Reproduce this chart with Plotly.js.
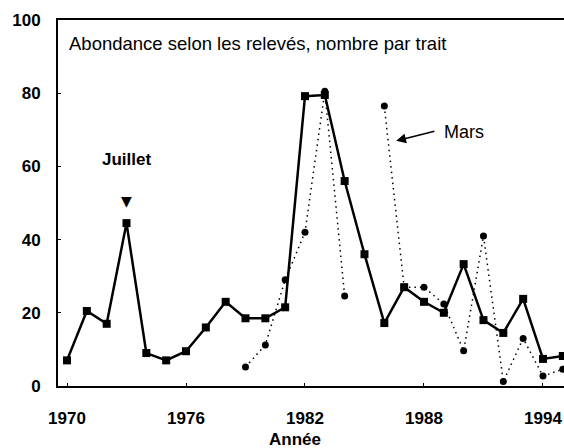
<!DOCTYPE html>
<html><head><meta charset="utf-8">
<script src="https://cdn.plot.ly/plotly-3.0.1.min.js"></script>
<style>html,body{margin:0;padding:0;background:#fff}#c{width:564px;height:448px}</style>
</head><body><div id="c"></div>
<script>
const years = [1970,1971,1972,1973,1974,1975,1976,1977,1978,1979,1980,1981,1982,1983,1984,1985,1986,1987,1988,1989,1990,1991,1992,1993,1994,1995];
const juillet = [7,20.5,17,44.5,9,7,9.5,16,23,18.5,18.5,21.5,79.2,79.5,56,36,17.2,27,23,20,33.3,18,14.5,23.8,7.4,8.2];
const mars = [null,null,null,null,null,null,null,null,null,5.2,11.2,29,42,80.5,24.6,null,76.5,27,27,22.4,9.6,41,1.2,13,2.7,4.6];
const xTicks = [1970,1976,1982,1988,1994];
const yTicks = [0,20,40,60,80,100];

const F = "Liberation Sans, Arial, Helvetica, sans-serif";
const traces = [
  {x: years, y: mars, type:'scatter', mode:'lines+markers', connectgaps:false,
   line:{color:'#000', width:1.5, dash:'1.5px,4px'}, marker:{symbol:'circle', size:7, color:'#000'}},
  {x: years, y: juillet, type:'scatter', mode:'lines+markers',
   line:{color:'#000', width:2.5}, marker:{symbol:'square', size:8, color:'#000'}}
];
const layout = {
  width:564, height:448, showlegend:false,
  paper_bgcolor:'#fff', plot_bgcolor:'#fff',
  margin:{l:58, r:0, t:20, b:62},
  font:{family:F, color:'#000', size:18},
  xaxis:{range:[1969.546,1995.06], tickvals:xTicks, ticktext:xTicks.map(String),
    showgrid:false, zeroline:false, showline:true, linecolor:'#000', linewidth:2, mirror:true,
    ticks:'inside', ticklen:3, tickcolor:'#000', ticklabelstandoff:16,
    tickfont:{family:F, size:17, weight:'bold', color:'#000'}},
  yaxis:{range:[0,100], tickvals:yTicks, showgrid:false, zeroline:false, showline:true,
    linecolor:'#000', linewidth:2, ticks:'inside', ticklen:3, tickcolor:'#000', ticklabelstandoff:12,
    tickfont:{family:F, size:17, weight:'bold', color:'#000'}},
  annotations:[
    {xref:'paper', yref:'paper', x:0.018, y:0.935, xanchor:'left', yanchor:'middle', showarrow:false,
     text:'Abondance selon les relevés, nombre par trait', font:{family:F, size:18.5, color:'#000'}},
    {xref:'x', yref:'y', x:1973, y:62, showarrow:false, text:'Juillet',
     font:{family:F, size:17, weight:'bold', color:'#000'}},
    {xref:'x', yref:'y', x:1973, y:50.5, showarrow:false, text:'▼',
     font:{family:'DejaVu Sans', size:14, color:'#000'}},
    {xref:'x', yref:'y', x:1988.9, y:69.5, xanchor:'left', showarrow:false, text:'Mars',
     font:{family:F, size:18, color:'#000'}},
    {xref:'x', yref:'y', x:1986.6, y:67, axref:'x', ayref:'y', ax:1988.6, ay:69.7,
     showarrow:true, arrowhead:2, arrowsize:1.3, arrowwidth:1.5, arrowcolor:'#000', text:''},
    {xref:'paper', yref:'paper', x:0.468, y:-0.145, xanchor:'center', yanchor:'middle', showarrow:false,
     text:'<b>Année</b>', font:{family:F, size:17, color:'#000'}}
  ]
};
Plotly.newPlot('c', traces, layout, {staticPlot:true});
</script></body></html>
